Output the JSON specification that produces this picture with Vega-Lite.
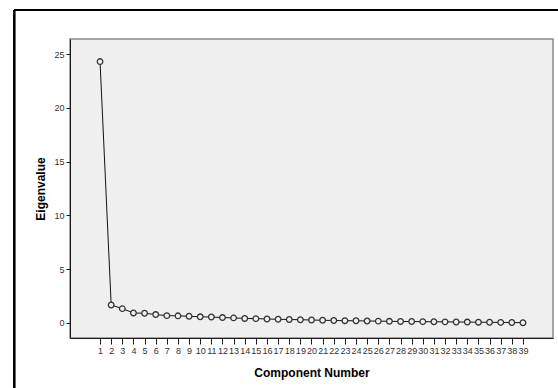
{
  "$schema": "https://vega.github.io/schema/vega-lite/v6.json",
  "width": 483,
  "height": 299,
  "autosize": {"type": "none"},
  "padding": {"left": 70, "top": 39, "right": 5, "bottom": 50},
  "background": "white",
  "config": {
    "font": "Liberation Sans",
    "view": {"fill": "#efefef", "stroke": "#8a8a8a", "strokeWidth": 1.5},
    "axis": {"grid": false, "domainColor": "#1a1a1a", "tickColor": "#1a1a1a", "labelColor": "#333333", "labelFontSize": 9, "titleFontSize": 12, "titleFontWeight": "bold", "titleColor": "#000000"}
  },
  "data": {"values": [
    {"component": 1, "eigenvalue": 24.3},
    {"component": 2, "eigenvalue": 1.67},
    {"component": 3, "eigenvalue": 1.33},
    {"component": 4, "eigenvalue": 0.93},
    {"component": 5, "eigenvalue": 0.9},
    {"component": 6, "eigenvalue": 0.78},
    {"component": 7, "eigenvalue": 0.68},
    {"component": 8, "eigenvalue": 0.66},
    {"component": 9, "eigenvalue": 0.62},
    {"component": 10, "eigenvalue": 0.57},
    {"component": 11, "eigenvalue": 0.55},
    {"component": 12, "eigenvalue": 0.5},
    {"component": 13, "eigenvalue": 0.47},
    {"component": 14, "eigenvalue": 0.42},
    {"component": 15, "eigenvalue": 0.4},
    {"component": 16, "eigenvalue": 0.37},
    {"component": 17, "eigenvalue": 0.34},
    {"component": 18, "eigenvalue": 0.32},
    {"component": 19, "eigenvalue": 0.3},
    {"component": 20, "eigenvalue": 0.27},
    {"component": 21, "eigenvalue": 0.25},
    {"component": 22, "eigenvalue": 0.23},
    {"component": 23, "eigenvalue": 0.21},
    {"component": 24, "eigenvalue": 0.2},
    {"component": 25, "eigenvalue": 0.18},
    {"component": 26, "eigenvalue": 0.17},
    {"component": 27, "eigenvalue": 0.15},
    {"component": 28, "eigenvalue": 0.14},
    {"component": 29, "eigenvalue": 0.13},
    {"component": 30, "eigenvalue": 0.12},
    {"component": 31, "eigenvalue": 0.11},
    {"component": 32, "eigenvalue": 0.1},
    {"component": 33, "eigenvalue": 0.09},
    {"component": 34, "eigenvalue": 0.08},
    {"component": 35, "eigenvalue": 0.07},
    {"component": 36, "eigenvalue": 0.06},
    {"component": 37, "eigenvalue": 0.05},
    {"component": 38, "eigenvalue": 0.04},
    {"component": 39, "eigenvalue": 0.02}
  ]},
  "encoding": {
    "x": {
      "field": "component", "type": "quantitative",
      "scale": {"domain": [-1.7, 41.7], "nice": false, "zero": false},
      "axis": {"title": "Component Number", "values": [1,2,3,4,5,6,7,8,9,10,11,12,13,14,15,16,17,18,19,20,21,22,23,24,25,26,27,28,29,30,31,32,33,34,35,36,37,38,39], "labelOverlap": false, "labelFlush": false, "tickSize": 6, "labelPadding": 2, "titlePadding": 12, "format": "d"}
    },
    "y": {
      "field": "eigenvalue", "type": "quantitative",
      "scale": {"domain": [-1.4, 26.4], "nice": false, "zero": false},
      "axis": {"title": "Eigenvalue", "values": [0, 5, 10, 15, 20, 25], "tickSize": 4, "labelPadding": 2, "titlePadding": 6}
    }
  },
  "layer": [
    {"mark": {"type": "line", "color": "#111111", "strokeWidth": 1}},
    {"mark": {"type": "point", "shape": "circle", "size": 32, "filled": false, "stroke": "#333333", "strokeWidth": 1.3, "fill": "#efefef", "fillOpacity": 1, "opacity": 1}},
    {"mark": {"type": "rule", "color": "#000000", "strokeWidth": 2},
     "encoding": {"x": {"datum": -6.73}, "y": {"datum": 29.1}, "y2": {"datum": -7}}},
    {"mark": {"type": "rule", "color": "#000000", "strokeWidth": 2},
     "encoding": {"x": {"datum": -6.73}, "x2": {"datum": 43}, "y": {"datum": 29.1}}}
  ]
}
